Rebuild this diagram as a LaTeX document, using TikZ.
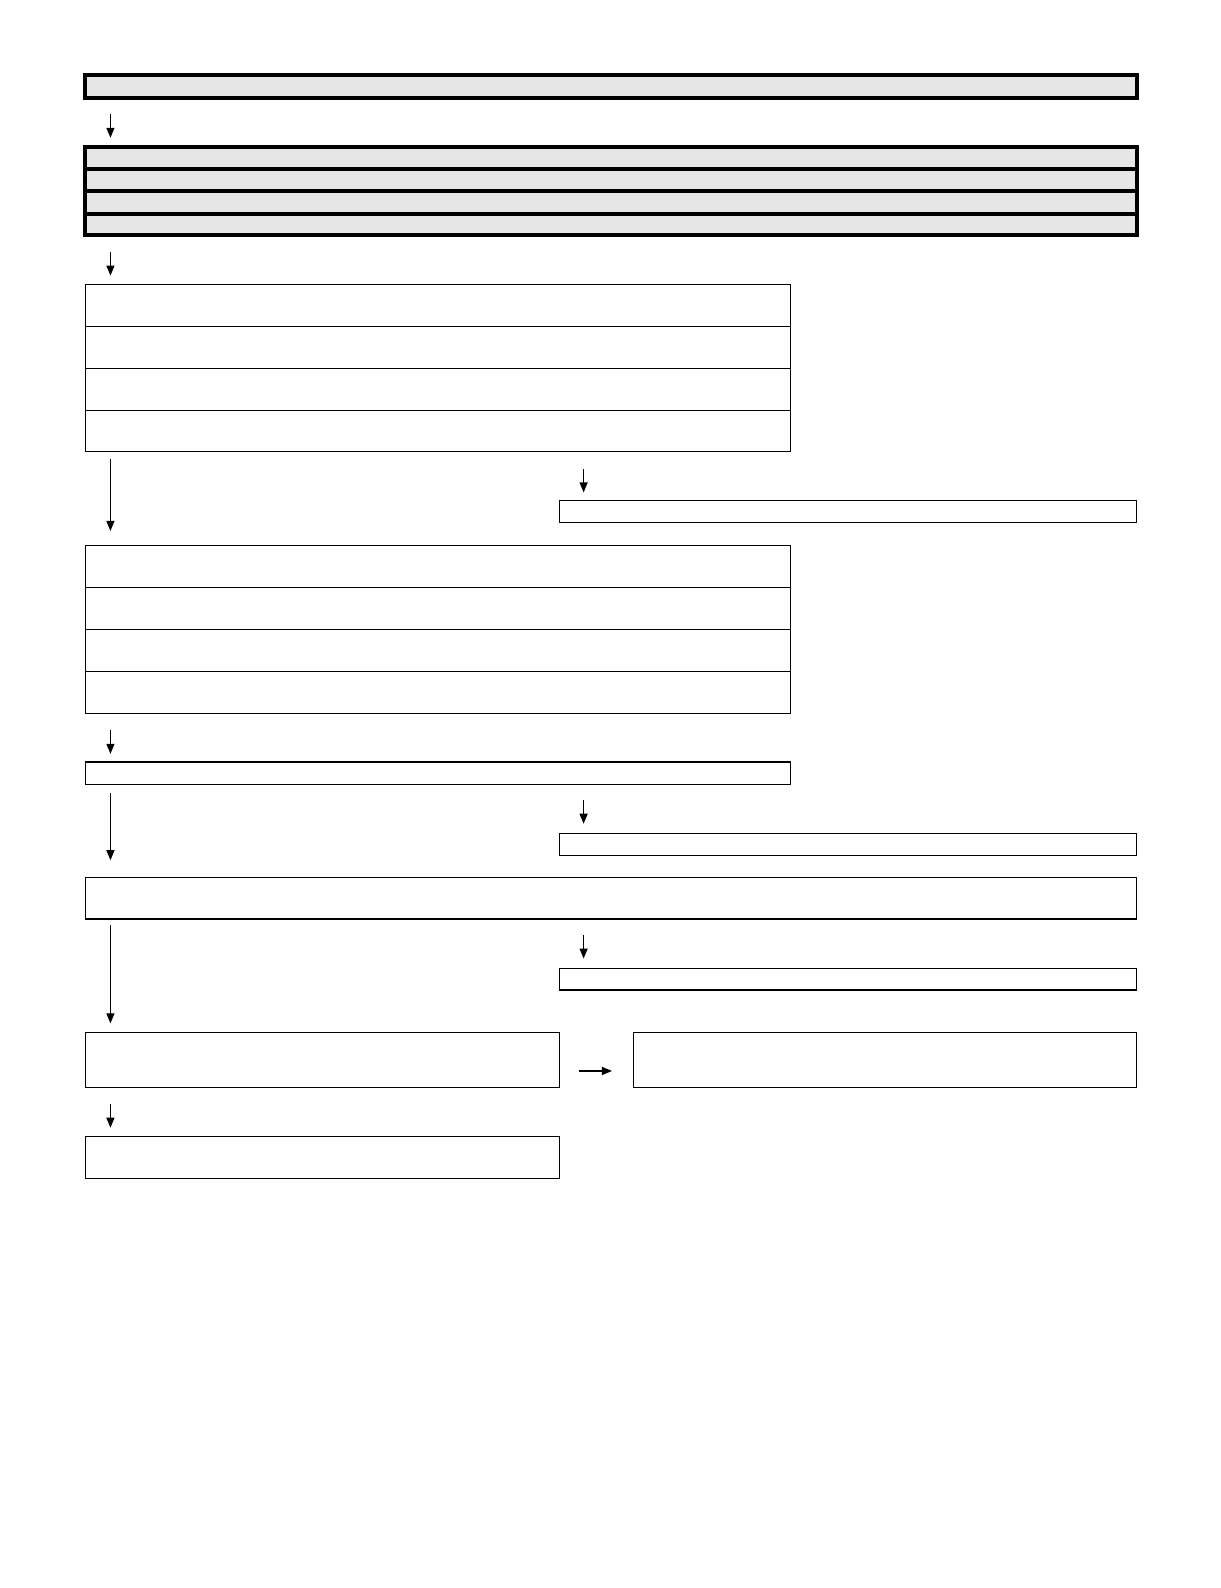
\documentclass[tikz,border=0pt]{standalone}
\usetikzlibrary{arrows.meta}
\definecolor{boxgray}{HTML}{E6E6E6}
\begin{document}
\begin{tikzpicture}[x=1.0132pt,y=-1.0132pt,
  thickbox/.style={draw=black,line width=4pt,fill=boxgray,inner sep=0pt,outer sep=0pt,anchor=north west},
  thinbox/.style={draw=black,line width=1.15pt,fill=white,inner sep=0pt,outer sep=0pt,anchor=north west},
  septhick/.style={line width=4pt},
  septhin/.style={line width=1pt},
  arr/.style={line width=1.2pt,-{Triangle[length=10pt,width=8pt]}}]
\useasboundingbox (0,0) rectangle (1204.1,1567.3);
% top box
\node[thickbox,minimum width=1051.7pt,minimum height=23.3pt] (top) at (84,74) {};
\coordinate (a1s) at (109,113); \coordinate (a1e) at (109,136);
\draw[arr] (a1s) -- (a1e);
% group 2
\node[thickbox,minimum width=1051.7pt,minimum height=88.1pt] (g2) at (84,145) {};
\coordinate (g2a) at (84,167); \coordinate (g2b) at (1122,167);
\coordinate (g2c) at (84,189); \coordinate (g2d) at (1122,189);
\coordinate (g2e) at (84,211); \coordinate (g2f) at (1122,211);
\draw[septhick] (g2a) -- (g2b) (g2c) -- (g2d) (g2e) -- (g2f);
\coordinate (a2s) at (109,249); \coordinate (a2e) at (109,272);
\draw[arr] (a2s) -- (a2e);
% group 3
\node[thinbox,minimum width=705.2pt,minimum height=167.2pt] (g3) at (84,281) {};
\coordinate (g3a) at (84,322.5); \coordinate (g3b) at (780,322.5);
\coordinate (g3c) at (84,364); \coordinate (g3d) at (780,364);
\coordinate (g3e) at (84,405.5); \coordinate (g3f) at (780,405.5);
\draw[septhin] (g3a) -- (g3b) (g3c) -- (g3d) (g3e) -- (g3f);
\coordinate (a3s) at (109,453); \coordinate (a3e) at (109,524);
\draw[arr] (a3s) -- (a3e);
\coordinate (a4s) at (576,463); \coordinate (a4e) at (576,486);
\draw[arr] (a4s) -- (a4e);
\node[thinbox,minimum width=577.5pt,minimum height=22.3pt] (r1) at (552,494) {};
% group 4
\node[thinbox,minimum width=705.2pt,minimum height=168.2pt] (g4) at (84,538) {};
\coordinate (g4a) at (84,580); \coordinate (g4b) at (780,580);
\coordinate (g4c) at (84,621.5); \coordinate (g4d) at (780,621.5);
\coordinate (g4e) at (84,663); \coordinate (g4f) at (780,663);
\draw[septhin] (g4a) -- (g4b) (g4c) -- (g4d) (g4e) -- (g4f);
\coordinate (a5s) at (109,720); \coordinate (a5e) at (109,744);
\draw[arr] (a5s) -- (a5e);
\node[thinbox,minimum width=705.2pt,minimum height=22.3pt] (b5) at (84,752) {};
\coordinate (a6s) at (109,783); \coordinate (a6e) at (109,849);
\draw[arr] (a6s) -- (a6e);
\coordinate (a7s) at (576,790); \coordinate (a7e) at (576,813);
\draw[arr] (a7s) -- (a7e);
\node[thinbox,minimum width=577.5pt,minimum height=21.3pt] (r2) at (552,823) {};
\node[thinbox,minimum width=1051.7pt,minimum height=41.5pt] (b6) at (84,866) {};
\coordinate (a8s) at (109,913); \coordinate (a8e) at (109,1010);
\draw[arr] (a8s) -- (a8e);
\coordinate (a9s) at (576,923); \coordinate (a9e) at (576,946);
\draw[arr] (a9s) -- (a9e);
\node[thinbox,minimum width=577.5pt,minimum height=21.3pt] (r3) at (552,956) {};
\node[thinbox,minimum width=474.2pt,minimum height=54.7pt] (b7) at (84,1019) {};
\coordinate (a10s) at (571,1057); \coordinate (a10e) at (604,1057);
\draw[arr] (a10s) -- (a10e);
\node[thinbox,minimum width=503.6pt,minimum height=54.7pt] (b8) at (625,1019) {};
\coordinate (a11s) at (109,1090); \coordinate (a11e) at (109,1113);
\draw[arr] (a11s) -- (a11e);
\node[thinbox,minimum width=474.2pt,minimum height=41.5pt] (b9) at (84,1122) {};
\end{tikzpicture}
\end{document}
